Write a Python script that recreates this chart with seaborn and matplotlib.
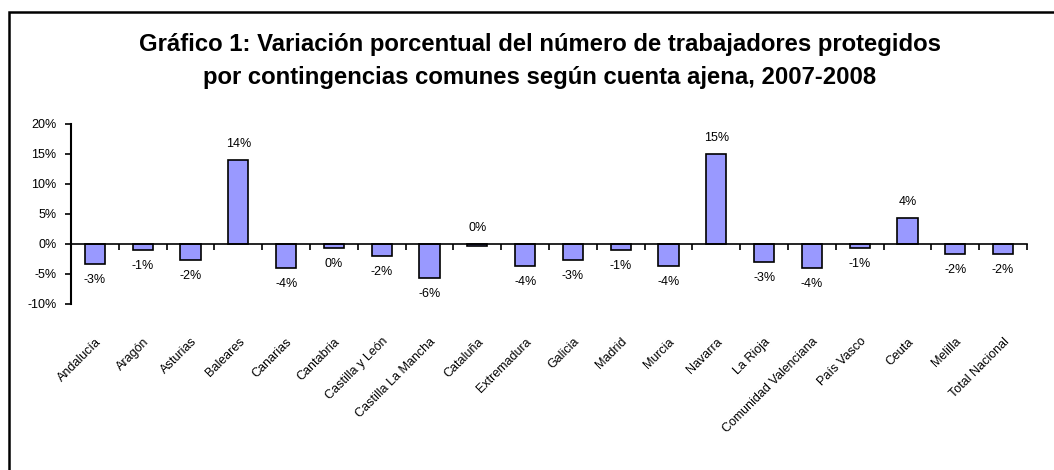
import matplotlib
matplotlib.use('Agg')
import matplotlib.pyplot as plt
import seaborn as sns
import pandas as pd
from matplotlib.patches import Rectangle
from matplotlib.ticker import PercentFormatter

# Data (percent)
regiones = ['Andalucía', 'Aragón', 'Asturias', 'Baleares', 'Canarias', 'Cantabria',
            'Castilla y León', 'Castilla La Mancha', 'Cataluña', 'Extremadura',
            'Galicia', 'Madrid', 'Murcia', 'Navarra', 'La Rioja',
            'Comunidad Valenciana', 'País Vasco', 'Ceuta', 'Melilla', 'Total Nacional']
variacion = [-3.3, -1.0, -2.7, 14.0, -4.0, -0.7, -2.0, -5.7, -0.3, -3.7,
             -2.7, -1.0, -3.7, 15.0, -3.0, -4.0, -0.7, 4.3, -1.7, -1.7]
etiquetas = ['-3%', '-1%', '-2%', '14%', '-4%', '0%', '-2%', '-6%', '0%', '-4%',
             '-3%', '-1%', '-4%', '15%', '-3%', '-4%', '-1%', '4%', '-2%', '-2%']
y_ticks = [-10, -5, 0, 5, 10, 15, 20]

df = pd.DataFrame({'region': regiones, 'variacion': variacion})

sns.set_style('white')
plt.rcParams['font.family'] = ['Liberation Sans', 'DejaVu Sans']
plt.rcParams['axes.unicode_minus'] = False
plt.rcParams['text.color'] = 'black'
plt.rcParams['xtick.color'] = 'black'
plt.rcParams['ytick.color'] = 'black'
plt.rcParams['axes.edgecolor'] = 'black'

fig = plt.figure(figsize=(10.54, 4.70), dpi=100)
ax = fig.add_axes([0.0674, 0.3532, 0.907, 0.383])

sns.barplot(data=df, x='region', y='variacion', color='#9999FF', saturation=1,
            edgecolor='black', linewidth=1.2, width=0.42, ax=ax)

ax.set_ylim(-10, 20)
ax.set_xlim(-0.5, len(regiones) - 0.5)
ax.set_yticks(y_ticks)
ax.yaxis.set_major_formatter(PercentFormatter(decimals=0))
ax.tick_params(axis='y', labelsize=9, length=4, width=1.2, direction='out', left=True, pad=6.5)
ax.set_xlabel('')
ax.set_ylabel('')

# zero line as x axis, with ticks between categories
for s in ['top', 'right']:
    ax.spines[s].set_visible(False)
ax.spines['left'].set_linewidth(1.5)
ax.spines['bottom'].set_position(('data', 0))
ax.spines['bottom'].set_linewidth(1.2)
ax.set_xticks([i + 0.5 for i in range(-1, len(regiones))], minor=True)
ax.tick_params(axis='x', which='minor', length=4, width=1.2, direction='out', bottom=True)
ax.tick_params(axis='x', which='major', length=0, pad=66, labelsize=9)
plt.setp(ax.get_xticklabels(), rotation=45, ha='right', va='top', rotation_mode='anchor')

# data labels
for i, (v, t) in enumerate(zip(variacion, etiquetas)):
    if v > -0.5:
        ax.annotate(t, (i, max(v, 0)), xytext=(0, 7), textcoords='offset points',
                    ha='center', va='bottom', fontsize=9)
    else:
        ax.annotate(t, (i, v), xytext=(0, -7), textcoords='offset points',
                    ha='center', va='top', fontsize=9)

fig.text(0.512, 0.871, 'Gráfico 1: Variación porcentual del número de trabajadores protegidos\n'
         'por contingencias comunes según cuenta ajena, 2007-2008',
         ha='center', va='center', fontsize=17.2, fontweight='bold', linespacing=1.55)

# chart border
fig.patches.append(Rectangle((0.0085, -0.05), 1.1, 0.0245 + 1.0, transform=fig.transFigure,
                             fill=False, edgecolor='black', linewidth=1.8))

fig.savefig('out.png', dpi=100)
